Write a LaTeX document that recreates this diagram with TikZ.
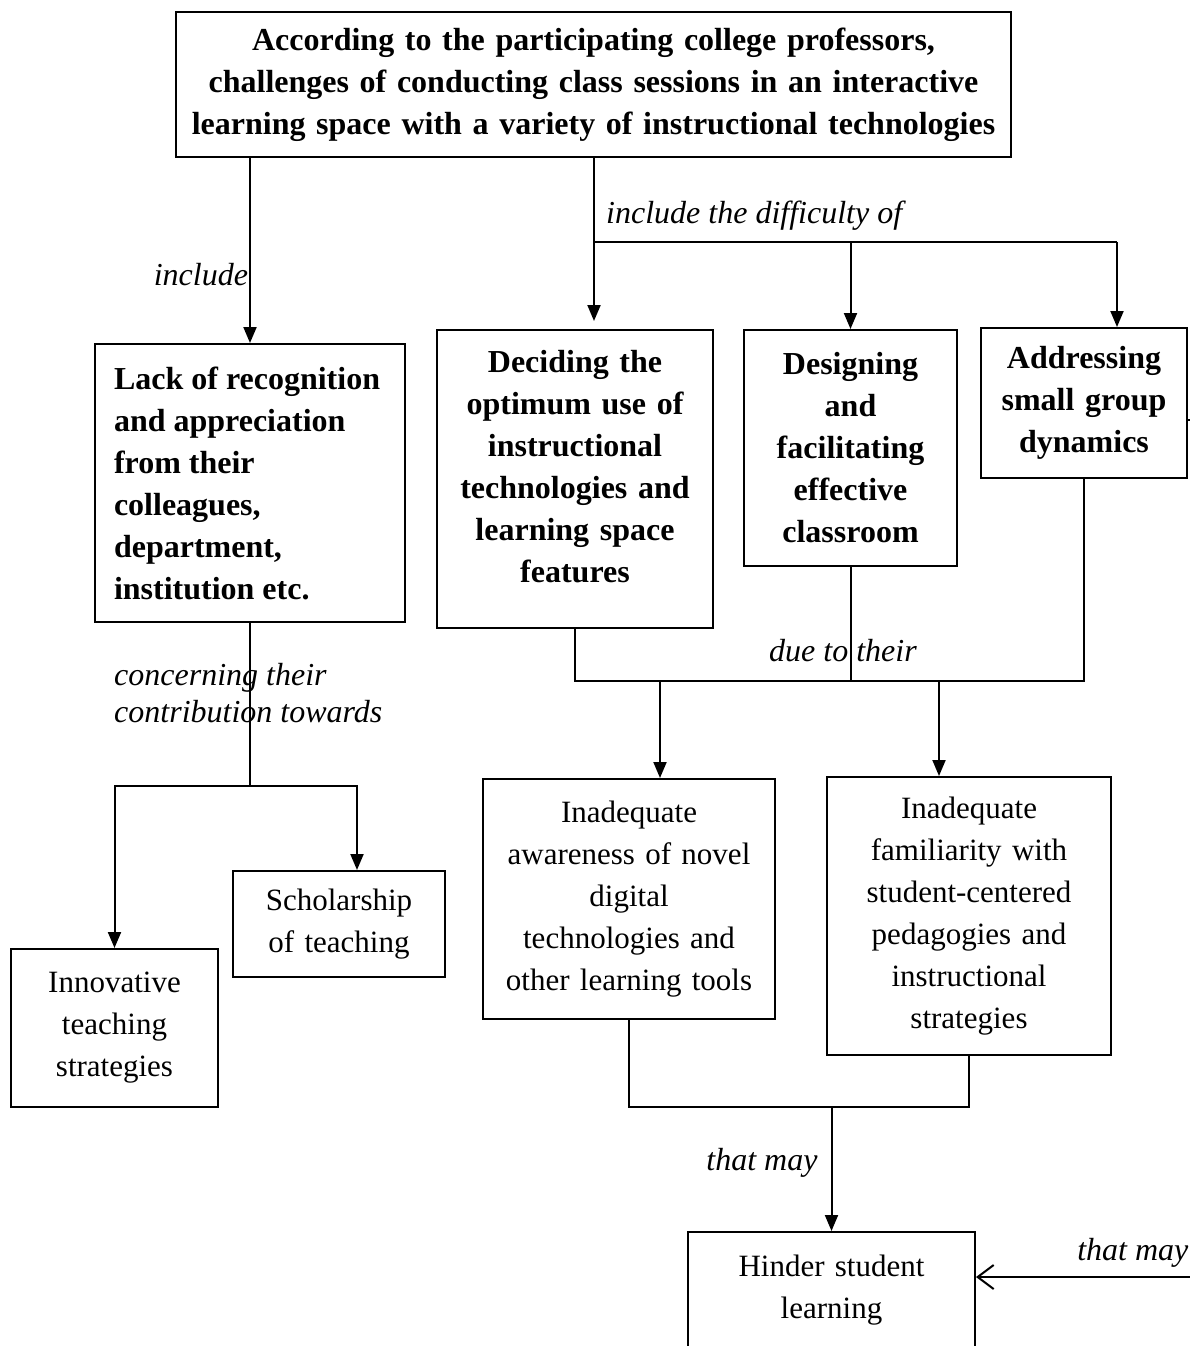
\documentclass[tikz,border=0pt]{standalone}
\usepackage{fontspec}
\setmainfont{Liberation Serif}
\usetikzlibrary{arrows.meta,positioning,calc}

\begin{document}
\begin{tikzpicture}[
  x=1pt, y=-1pt,
  font=\fontsize{31}{42}\selectfont,
  >={Triangle[length=16pt,width=13pt]},
  box/.style={rectangle, draw, line width=2pt, align=center, inner sep=0pt},
  challenge/.style={box, font=\fontsize{32}{42}\selectfont\bfseries},
  outcome/.style={box},
  line/.style={line width=2pt},
  arrow/.style={->, line width=2pt},
  openarrow/.style={-{Straight Barb[length=16pt,width=24pt]}, line width=2pt},
  labeltext/.style={font=\fontsize{32}{37}\selectfont\itshape, inner sep=1pt, align=left}
]
  \useasboundingbox (0,0) rectangle (1190,1346);

  % Frage und Herausforderungen.
  \node[challenge, minimum width=835, minimum height=145, text width=815] (top) at (593.5,84.5)
    {According to the participating college professors,\\challenges of conducting class sessions in an interactive\\learning space with a variety of instructional technologies};
  \node[challenge, minimum width=310, minimum height=278, text width=272, inner xsep=19pt, align=flush left] (lack) at (250,483)
    {Lack of recognition\\and appreciation\\from their\\colleagues,\\department,\\institution etc.};
  \node[challenge, minimum width=276, minimum height=298, text width=256] (decide) at (575,479)
    {Deciding the\\optimum use of\\instructional\\technologies and\\learning space\\features\\[-16pt]\mbox{}};
  \node[challenge, minimum width=213, minimum height=236, text width=200] (design) at (850.5,448)
    {Designing\\and\\facilitating\\effective\\classroom};
  \node[challenge, minimum width=206, minimum height=150, text width=196] (address) at (1084,403)
    {Addressing\\small group\\dynamics};

  % Beitrag.
  \node[outcome, minimum width=212, minimum height=106, text width=200] (scholar) at (339,924)
    {Scholarship\\of teaching};
  \node[outcome, minimum width=207, minimum height=158, text width=197] (innov) at (114.5,1028)
    {Innovative\\teaching\\strategies};

  % Ursachen und Folge.
  \node[outcome, minimum width=292, minimum height=240, text width=282] (aware) at (629,899)
    {Inadequate\\awareness of novel\\digital\\technologies and\\other learning tools};
  \node[outcome, minimum width=284, minimum height=278, text width=274] (familiar) at (969,916)
    {Inadequate\\familiarity with\\student-centered\\pedagogies and\\instructional\\strategies};
  \node[outcome, minimum width=287, minimum height=122, text width=277] (hinder) at (831.5,1293)
    {Hinder student\\learning\\[-30pt]\mbox{}};

  % Verzweigungspunkte.
  \coordinate (dfork) at (594,242);
  \coordinate (dend) at (1117,242);
  \coordinate (lfork) at (250,786);
  \coordinate (tjoin) at (0,681);
  \coordinate (bjoin) at (0,1107);
  \coordinate (rin) at (1200,1277);
  \coordinate (rtick) at (1195,420);

  % Oben.
  \draw[arrow] (top.south -| lack.north) --
    node[labeltext, pos=.63, left] {include} (lack.north);
  \draw[line] (top.south -| dfork) -- (dfork) -- (dend);
  \draw[arrow, shorten >=8pt] (dfork) -- (dfork |- decide.north);
  \draw[arrow] (dfork -| design.north) -- (design.north);
  \draw[arrow] (dend) -- (dend |- address.north);
  \node[labeltext, anchor=base west, xshift=11pt, yshift=19pt] (difflabel) at (dfork) {include the difficulty of};

  % Links.
  \draw[line] (lack.south) -- (lfork);
  \draw[arrow] (lfork) -| (innov.north);
  \draw[arrow] (lfork) -| ([xshift=18pt]scholar.north);
  \node[labeltext, anchor=west] (contlabel) at (113,693) {concerning their\\contribution towards};

  % Mitte.
  \draw[line] (decide.south) -- (decide.south |- tjoin) -- (address.south |- tjoin) -- (address.south);
  \draw[line] (design.south) -- (design.south |- tjoin);
  \draw[arrow] ([xshift=31pt]aware.north |- tjoin) -- ([xshift=31pt]aware.north);
  \draw[arrow] ([xshift=-30pt]familiar.north |- tjoin) -- ([xshift=-30pt]familiar.north);
  \node[labeltext] (duelabel) at (843,651) {due to their};

  % Unten.
  \draw[line] (aware.south) -- (aware.south |- bjoin) -- (familiar.south |- bjoin) -- (familiar.south);
  \draw[arrow] (hinder.north |- bjoin) --
    node[labeltext, pos=.45, left, xshift=-12pt] {that may} (hinder.north);
  \draw[openarrow] (rin) --
    node[labeltext, pos=.3, above, yshift=8pt] {that may} (rin -| hinder.east);
  \draw[line] (rtick -| address.east) -- (rtick);
\end{tikzpicture}
\end{document}
